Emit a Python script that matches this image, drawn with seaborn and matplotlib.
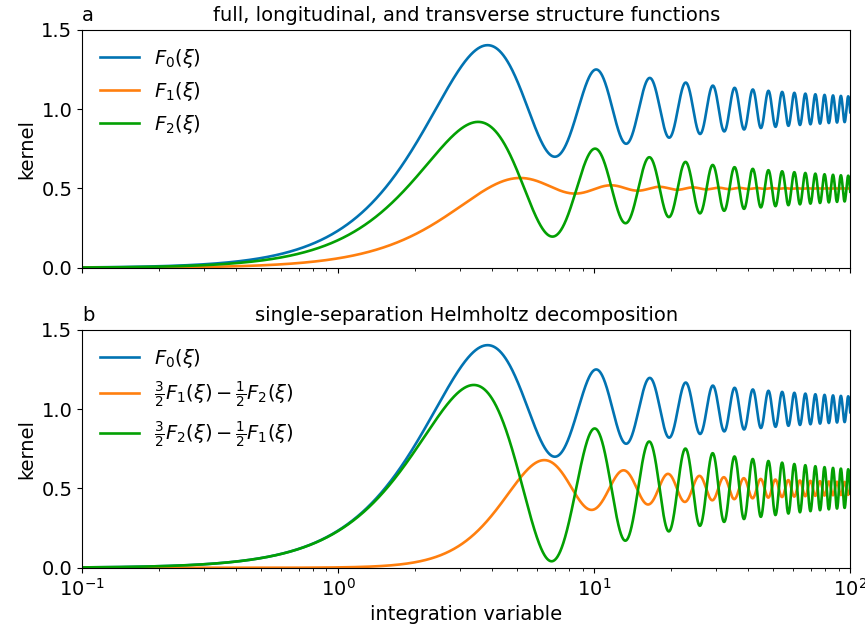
import numpy as np
import pandas as pd
import matplotlib
matplotlib.use("Agg")
import matplotlib.pyplot as plt
import seaborn as sns

# ---- data definition (kernels named in the legends) ----
xi_range = [0.1, 100.0]
asymptote_F0 = 1.0
asymptote_F12 = 0.5
mix_b = [1.5, -0.5]           # 3/2 Fa - 1/2 Fb (from legend of panel b)
labels_a = [r"$F_0(\xi)$", r"$F_1(\xi)$", r"$F_2(\xi)$"]
labels_b = [r"$F_0(\xi)$",
            r"$\frac{3}{2}F_1(\xi) - \frac{1}{2}F_2(\xi)$",
            r"$\frac{3}{2}F_2(\xi) - \frac{1}{2}F_1(\xi)$"]
colors = ["#0173b2", "#ff7f0e", "#03a003"]
titles = ["full, longitudinal, and transverse structure functions",
          "single-separation Helmholtz decomposition"]
panel_tags = ["a", "b"]
yticks = [0.0, 0.5, 1.0, 1.5]

xi = np.logspace(np.log10(xi_range[0]), np.log10(xi_range[1]), 4000)


def bessel(n, x):
    tau = (np.arange(4000) + 0.5) * np.pi / 4000
    return np.cos(n * tau[None, :] - x[:, None] * np.sin(tau)[None, :]).mean(axis=1)


J0 = bessel(0, xi)
J1 = bessel(1, xi)
F0 = asymptote_F0 - J0
F1 = asymptote_F12 - J1 / xi
F2 = F0 - F1
G1 = mix_b[0] * F1 + mix_b[1] * F2
G2 = mix_b[0] * F2 + mix_b[1] * F1

series_a = [F0, F1, F2]
series_b = [F0, G1, G2]

plt.rcParams["font.family"] = ["DejaVu Sans"]
plt.rcParams["font.size"] = 14
plt.rcParams["mathtext.fontset"] = "dejavusans"
FS = 14

fig, axes = plt.subplots(2, 1, figsize=(8.65, 6.33), dpi=100, sharex=True)
fig.subplots_adjust(left=0.095, right=0.983, top=0.953, bottom=0.103, hspace=0.26)

for ax, series, labels, title, tag in zip(axes, [series_a, series_b],
                                          [labels_a, labels_b], titles, panel_tags):
    for y, lab, c in zip(series, labels, colors):
        df = pd.DataFrame({"xi": xi, "k": y})
        sns.lineplot(data=df, x="xi", y="k", ax=ax, color=c, lw=1.9, label=lab,
                     estimator=None, sort=False)
    ax.set_xscale("log")
    ax.set_xlim(*xi_range)
    ax.set_ylim(0, 1.5)
    ax.set_yticks(yticks)
    ax.set_ylabel("kernel", fontsize=FS)
    ax.set_xlabel("")
    ax.set_title(title, fontsize=FS)
    ax.set_title(tag, loc="left", fontsize=FS)
    ax.tick_params(labelsize=FS)
    ax.legend(loc="upper left", frameon=False, fontsize=FS)

axes[1].set_xlabel("integration variable", fontsize=FS)

fig.savefig("out.png", dpi=100)
